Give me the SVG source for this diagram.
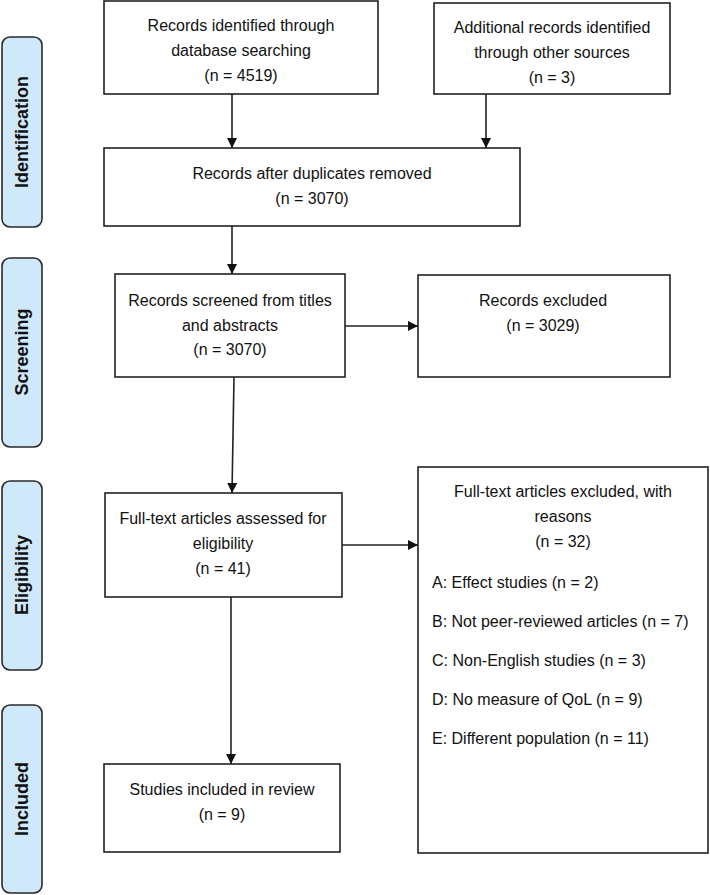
<svg xmlns="http://www.w3.org/2000/svg" width="710" height="895" viewBox="0 0 710 895">
<style>
.box{fill:#fff;stroke:#222;stroke-width:1.6}
.stage{fill:#cfe8fa;stroke:#2a2a2a;stroke-width:1.6}
.t{font-family:"Liberation Sans",Arial,sans-serif;font-size:16px;fill:#111;text-anchor:middle}
.l{font-family:"Liberation Sans",Arial,sans-serif;font-size:16px;fill:#111}
.s{font-family:"Liberation Sans",Arial,sans-serif;font-size:18px;font-weight:bold;fill:#111;text-anchor:middle}
.c{fill:none;stroke:#222;stroke-width:1.6}
</style>
<defs>
<marker id="ah" viewBox="0 0 10 10" refX="10" refY="5" markerWidth="10" markerHeight="10" markerUnits="userSpaceOnUse" orient="auto">
<path d="M0,0 L10,5 L0,10 Z" fill="#111"/>
</marker>
</defs>
<g id="stages">
<g id="stage-identification"><rect class="stage" x="2" y="37" width="40" height="190" rx="8"/><text class="s" transform="translate(28,132) rotate(-90)">Identification</text></g>
<g id="stage-screening"><rect class="stage" x="2" y="258" width="40" height="189" rx="8"/><text class="s" transform="translate(28,352) rotate(-90)">Screening</text></g>
<g id="stage-eligibility"><rect class="stage" x="2" y="481" width="40" height="189" rx="8"/><text class="s" transform="translate(28,575) rotate(-90)">Eligibility</text></g>
<g id="stage-included"><rect class="stage" x="2" y="705" width="40" height="188" rx="8"/><text class="s" transform="translate(28,799) rotate(-90)">Included</text></g>
</g>
<g id="connectors">
<line class="c" x1="232" y1="94" x2="232" y2="148" marker-end="url(#ah)"/>
<line class="c" x1="486" y1="94" x2="486" y2="148" marker-end="url(#ah)"/>
<line class="c" x1="232" y1="226" x2="232" y2="274" marker-end="url(#ah)"/>
<line class="c" x1="345" y1="326" x2="418" y2="326" marker-end="url(#ah)"/>
<line class="c" x1="234" y1="377" x2="232" y2="493" marker-end="url(#ah)"/>
<line class="c" x1="342" y1="545" x2="418" y2="545" marker-end="url(#ah)"/>
<line class="c" x1="231" y1="597" x2="231" y2="764" marker-end="url(#ah)"/>
</g>
<g id="n-db"><rect class="box" x="104" y="1" width="274" height="93"/>
<text class="t" x="241" y="31">Records identified through</text>
<text class="t" x="241" y="56">database searching</text>
<text class="t" x="241" y="81">(n = 4519)</text></g>
<g id="n-other"><rect class="box" x="434" y="3" width="236" height="91"/>
<text class="t" x="552" y="33">Additional records identified</text>
<text class="t" x="552" y="58">through other sources</text>
<text class="t" x="552" y="83">(n = 3)</text></g>
<g id="n-dup"><rect class="box" x="104" y="148" width="416" height="78"/>
<text class="t" x="312" y="179">Records after duplicates removed</text>
<text class="t" x="312" y="204">(n = 3070)</text></g>
<g id="n-screened"><rect class="box" x="115" y="274" width="230" height="103"/>
<text class="t" x="230" y="306">Records screened from titles</text>
<text class="t" x="230" y="331">and abstracts</text>
<text class="t" x="230" y="355">(n = 3070)</text></g>
<g id="n-excluded"><rect class="box" x="418" y="275" width="252" height="102"/>
<text class="t" x="543" y="306">Records excluded</text>
<text class="t" x="543" y="331">(n = 3029)</text></g>
<g id="n-fulltext"><rect class="box" x="105" y="493" width="237" height="104"/>
<text class="t" x="223" y="524">Full-text articles assessed for</text>
<text class="t" x="223" y="549">eligibility</text>
<text class="t" x="223" y="574">(n = 41)</text></g>
<g id="n-ftexcluded"><rect class="box" x="418" y="467" width="290" height="386"/>
<text class="t" x="563" y="497">Full-text articles excluded, with</text>
<text class="t" x="563" y="522">reasons</text>
<text class="t" x="563" y="547">(n = 32)</text>
<text class="l" x="432" y="588">A: Effect studies (n = 2)</text>
<text class="l" x="432" y="627">B: Not peer-reviewed articles (n = 7)</text>
<text class="l" x="432" y="666">C: Non-English studies (n = 3)</text>
<text class="l" x="432" y="705">D: No measure of QoL (n = 9)</text>
<text class="l" x="432" y="744">E: Different population (n = 11)</text></g>
<g id="n-included"><rect class="box" x="104" y="764" width="236" height="88"/>
<text class="t" x="222" y="795">Studies included in review</text>
<text class="t" x="222" y="820">(n = 9)</text></g>
</svg>
